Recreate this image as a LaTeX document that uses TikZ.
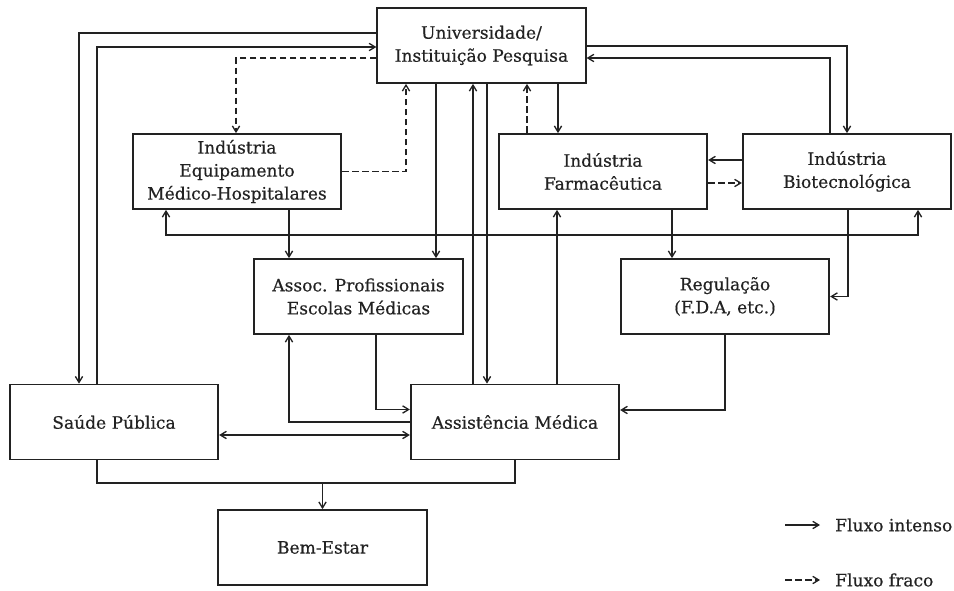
\documentclass[tikz,border=0pt]{standalone}
\usepackage{fontspec}
\newfontfamily\diagfont[FakeBold=0.5]{DejaVu Serif}
\usetikzlibrary{arrows.meta,calc}
\definecolor{ink}{HTML}{222222}
\begin{document}
\begin{tikzpicture}[x=0.75pt,y=-0.75pt,
  box/.style={draw=ink,line width=1.3pt,rectangle,minimum width=156.4pt,minimum height=56.25pt,
    align=center,inner sep=2pt,text=ink,font=\diagfont\fontsize{12.8}{17.25}\selectfont},
  flow/.style={draw=ink,line width=1pt,-{Straight Barb[length=4.5pt,width=5.5pt]}},
  both/.style={draw=ink,line width=1pt,{Straight Barb[length=4.5pt,width=5.5pt]}-{Straight Barb[length=4.5pt,width=5.5pt]}},
  plain/.style={draw=ink,line width=1pt},
  weak/.style={flow,dash pattern=on 5pt off 2.5pt},
  legtext/.style={text=ink,font=\diagfont\fontsize{12.8}{17.25}\selectfont,anchor=west,inner sep=0pt}]
\useasboundingbox (0,0) rectangle (954,590);

\node[box] (univ)   at (481.5,45.5) {Universidade/\\Instituição Pesquisa};
\node[box] (equip)  at (237,171.5)  {Indústria\\Equipamento\\Médico-Hospitalares};
\node[box] (farma)  at (603,171.5)  {Indústria\\Farmacêutica};
\node[box] (bio)    at (847,171.5)  {Indústria\\Biotecnológica};
\node[box] (assoc)  at (358.5,296.5){Assoc. Profissionais\\Escolas Médicas};
\node[box] (regul)  at (725,296.5)  {Regulação\\(F.D.A, etc.)};
\node[box] (saude)  at (114,422)    {Saúde Pública};
\node[box] (assist) at (515,422)    {Assistência Médica};
\node[box] (bem)    at (322.5,547.5){Bem-Estar};

% Universidade <-> Saude Publica
\draw[flow] ($(univ.west)+(0,-12.5)$) -| ($(saude.north)+(-35,0)$);
\draw[flow] ($(saude.north)+(-17,0)$) |- ($(univ.west)+(0,1.5)$);
% Universidade <-> Equipamento (weak)
\draw[weak] ($(univ.west)+(0,12.5)$) -| ($(equip.north)+(-1,0)$);
\draw[weak] (equip.east) -| ($(univ.south)+(-75.5,0)$);
% Equipamento -> Assoc
\draw[flow] ($(equip.south)+(52,0)$) coordinate (t1) -- (t1 |- assoc.north);
% Equipamento <-> Biotecnologica
\draw[both] ($(equip.south)+(-71,0)$) -- ++(0,25) -| ($(bio.south)+(71,0)$);
% Universidade -> Assoc
\draw[flow] ($(univ.south)+(-45.5,0)$) coordinate (t2) -- (t2 |- assoc.north);
% Assistencia <-> Universidade
\draw[flow] ($(assist.north)+(-42,0)$) coordinate (t3) -- (t3 |- univ.south);
\draw[flow] ($(univ.south)+(5.5,0)$) coordinate (t4) -- (t4 |- assist.north);
% Farmaceutica <-> Universidade
\draw[weak] ($(farma.north)+(-76,0)$) coordinate (t5) -- (t5 |- univ.south);
\draw[flow] ($(univ.south)+(76.5,0)$) coordinate (t6) -- (t6 |- farma.north);
% Assistencia -> Farmaceutica
\draw[flow] ($(assist.north)+(42,0)$) coordinate (t7) -- (t7 |- farma.south);
% Universidade <-> Biotecnologica
\draw[flow] ($(univ.east)+(0,0.5)$) -| (bio.north);
\draw[flow] ($(bio.north)+(-17,0)$) |- ($(univ.east)+(0,12.5)$);
% Biotecnologica <-> Farmaceutica
\draw[flow] ($(bio.west)+(0,-11.5)$) coordinate (t8) -- (t8 -| farma.east);
\draw[weak] ($(farma.east)+(0,11.5)$) coordinate (t9) -- (t9 -| bio.west);
% -> Regulacao
\draw[flow] ($(farma.south)+(69,0)$) coordinate (t10) -- (t10 |- regul.north);
\draw[flow] ($(bio.south)+(1,0)$) |- (regul.east);
% Regulacao -> Assistencia
\draw[flow] (regul.south) |- ($(assist.east)+(0,-12)$);
% Assoc <-> Assistencia
\draw[flow] ($(assoc.south)+(17.5,0)$) |- ($(assist.west)+(0,-12.5)$);
\draw[flow] (assist.west) -| ($(assoc.south)+(-69.5,0)$);
% Saude <-> Assistencia
\draw[both] ($(saude.east)+(0,13)$) coordinate (t11) -- (t11 -| assist.west);
% -> Bem-Estar
\coordinate (j) at ($(bem.north)+(0,-26)$);
\draw[plain] ($(saude.south)+(-17,0)$) |- (j) -| (assist.south);
\draw[flow] (j) -- (bem.north);

% Legend
\coordinate (la) at (785,525);
\coordinate (lb) at (820,525);
\coordinate (lc) at (785,580);
\coordinate (ld) at (820,580);
\draw[flow] (la) -- (lb);
\draw[weak] (lc) -- (ld);
\node[legtext] (leg1) at (835,525) {Fluxo intenso};
\node[legtext] (leg2) at (835,580) {Fluxo fraco};
\end{tikzpicture}
\end{document}
